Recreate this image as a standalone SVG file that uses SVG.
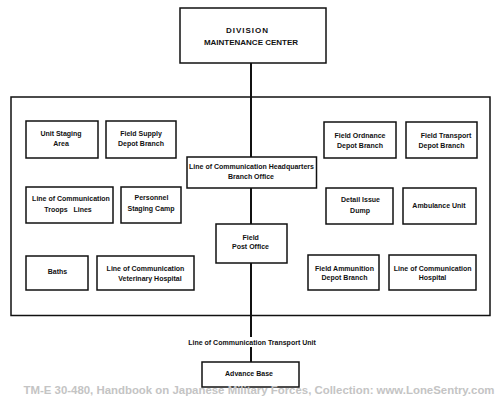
<svg xmlns="http://www.w3.org/2000/svg" width="500" height="400" viewBox="0 0 500 400">
<style>
.box{fill:#fff;stroke:#111;stroke-width:1.5}
.frame{fill:none;stroke:#111;stroke-width:1.5}
.conn{stroke:#111;stroke-width:2;fill:none}
text{font-family:"Liberation Sans",Arial,sans-serif;font-weight:bold;font-size:7px;fill:#111;text-anchor:middle}
.big{font-size:8px}
.wm{font-size:11px;fill:#c4c4c4;text-anchor:start}
</style>
<rect width="500" height="400" fill="#fff"/>
<rect class="frame" x="11" y="97" width="479" height="218.5"/>
<g id="connectors">
<line class="conn" x1="251" y1="63" x2="251" y2="157"/>
<line class="conn" x1="251" y1="188" x2="251" y2="224"/>
<line class="conn" x1="251" y1="263" x2="251" y2="337"/>
<line class="conn" x1="251" y1="347" x2="251" y2="362"/>
<text id="transport-label" x="252" y="344.5">Line of Communication Transport Unit</text>
</g>
<g id="division">
<rect class="box" x="180" y="8" width="146" height="55"/>
<text class="big" x="247.5" y="32.5" letter-spacing="1">DIVISION</text>
<text class="big" x="251" y="45">MAINTENANCE CENTER</text>
</g>
<g id="unit-staging">
<rect class="box" x="26" y="121" width="72" height="37"/>
<text x="61" y="135.5">Unit Staging</text>
<text x="61" y="146">Area</text>
</g>
<g id="field-supply">
<rect class="box" x="106" y="121" width="70" height="37"/>
<text x="141" y="135.5">Field Supply</text>
<text x="141" y="145.5">Depot Branch</text>
</g>
<g id="loc-hq">
<rect class="box" x="187" y="157" width="129.5" height="31"/>
<text x="251.5" y="169">Line of Communication Headquarters</text>
<text x="251" y="178.5">Branch Office</text>
</g>
<g id="loc-troops">
<rect class="box" x="26" y="187" width="87" height="36"/>
<text x="71" y="201">Line of Communication</text>
<text x="68" y="212" xml:space="preserve">Troops   Lines</text>
</g>
<g id="personnel-staging">
<rect class="box" x="121" y="187" width="60" height="36"/>
<text x="151.5" y="200">Personnel</text>
<text x="151" y="211">Staging Camp</text>
</g>
<g id="field-post">
<rect class="box" x="216" y="224" width="71" height="39"/>
<text x="250.7" y="240">Field</text>
<text x="250.5" y="249.3">Post Office</text>
</g>
<g id="baths">
<rect class="box" x="26" y="256" width="62" height="34"/>
<text x="57.5" y="274">Baths</text>
</g>
<g id="loc-veterinary">
<rect class="box" x="97" y="256" width="97" height="34"/>
<text x="145.5" y="270.7">Line of Communication</text>
<text x="150" y="280.7">Veterinary Hospital</text>
</g>
<g id="field-ordnance">
<rect class="box" x="324" y="122" width="72" height="36"/>
<text x="360" y="138">Field Ordnance</text>
<text x="360" y="147.7">Depot Branch</text>
</g>
<g id="field-transport">
<rect class="box" x="406" y="122" width="71" height="36"/>
<text x="446" y="138">Field Transport</text>
<text x="441.5" y="148">Depot Branch</text>
</g>
<g id="detail-issue">
<rect class="box" x="326" y="188" width="67" height="36"/>
<text x="360.5" y="202">Detail Issue</text>
<text x="360" y="212.7">Dump</text>
</g>
<g id="ambulance">
<rect class="box" x="403" y="188" width="73" height="36"/>
<text x="439" y="207.7">Ambulance Unit</text>
</g>
<g id="field-ammunition">
<rect class="box" x="308" y="255" width="71" height="35"/>
<text x="344.5" y="271">Field Ammunition</text>
<text x="344.5" y="280">Depot Branch</text>
</g>
<g id="loc-hospital">
<rect class="box" x="389" y="255" width="87" height="35"/>
<text x="432.7" y="271">Line of Communication</text>
<text x="432.5" y="280">Hospital</text>
</g>
<g id="advance-base">
<rect class="box" x="202" y="362" width="97" height="25"/>
<text x="249" y="375.7">Advance Base</text>
</g>
<text class="wm" x="23.5" y="394" textLength="471" lengthAdjust="spacingAndGlyphs">TM-E 30-480, Handbook on Japanese Military Forces, Collection: www.LoneSentry.com</text>
</svg>
